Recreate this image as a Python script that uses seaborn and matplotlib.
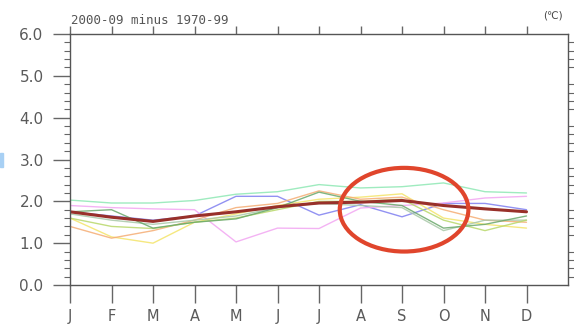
import numpy as np
import pandas as pd
import matplotlib
matplotlib.use("Agg")
import matplotlib.pyplot as plt
from matplotlib.patches import Ellipse, Rectangle
from matplotlib.ticker import MultipleLocator
import seaborn as sns

months = ["J", "F", "M", "A", "M", "J", "J", "A", "S", "O", "N", "D"]

# Temperature change (2000-09 minus 1970-99) by month, one list per run
run_mint   = [2.03, 1.96, 1.96, 2.02, 2.17, 2.23, 2.40, 2.32, 2.35, 2.44, 2.23, 2.20]
run_blue   = [1.75, 1.65, 1.55, 1.65, 2.12, 2.12, 1.67, 1.92, 1.63, 1.95, 1.95, 1.80]
run_pink   = [1.90, 1.85, 1.82, 1.80, 1.03, 1.36, 1.35, 1.84, 1.90, 1.96, 2.08, 2.12]
run_yellow = [1.60, 1.15, 1.00, 1.50, 1.70, 1.90, 2.05, 2.10, 2.18, 1.60, 1.45, 1.36]
run_orange = [1.40, 1.12, 1.30, 1.55, 1.85, 1.95, 2.25, 2.05, 2.10, 1.80, 1.55, 1.50]
run_green  = [1.75, 1.80, 1.36, 1.50, 1.58, 1.85, 2.22, 2.00, 1.90, 1.36, 1.45, 1.65]
run_olive  = [1.60, 1.40, 1.35, 1.50, 1.60, 1.80, 2.00, 2.00, 2.05, 1.55, 1.30, 1.55]
run_sage   = [1.70, 1.55, 1.45, 1.55, 1.65, 1.85, 1.95, 1.90, 1.85, 1.30, 1.55, 1.55]
ensemble_mean = [1.75, 1.62, 1.52, 1.65, 1.75, 1.87, 1.96, 1.98, 2.02, 1.90, 1.82, 1.75]

runs = {
    "mint": (run_mint, "#8ee8b4"),
    "blue": (run_blue, "#7f7ff0"),
    "pink": (run_pink, "#f2a6f2"),
    "yellow": (run_yellow, "#f4e46a"),
    "orange": (run_orange, "#f5ad74"),
    "sage": (run_sage, "#a8c8a8"),
    "olive": (run_olive, "#b8d86a"),
    "green": (run_green, "#6aa86a"),
}

rows = []
for name, (vals, _) in runs.items():
    for i, v in enumerate(vals):
        rows.append({"month": i, "value": v, "run": name})
df = pd.DataFrame(rows)
mean_df = pd.DataFrame({"month": np.arange(len(months)), "value": ensemble_mean})

sns.set_theme(style="white")
plt.rcParams["font.family"] = ["DejaVu Sans"]

fig = plt.figure(figsize=(5.74, 3.27), dpi=100)
ax = fig.add_axes([70 / 574, 1 - 285 / 327, (568 - 70) / 574, (285 - 34) / 327])

palette = {name: c for name, (_, c) in runs.items()}
sns.lineplot(data=df, x="month", y="value", hue="run", palette=palette,
             linewidth=1.0, legend=False, ax=ax, alpha=0.85)
sns.lineplot(data=mean_df, x="month", y="value", color="#98302a",
             linewidth=2.2, legend=False, ax=ax)

ax.set_xlim(0, 12)
ax.set_ylim(0, 6)
ax.set_xlabel("")
ax.set_ylabel("")

ax.set_xticks(np.arange(len(months)))
ax.set_xticklabels(months)
ax.set_yticks(np.arange(0, 6.01, 1.0))
ax.set_yticklabels([f"{v:.1f}" for v in np.arange(0, 6.01, 1.0)])
ax.yaxis.set_minor_locator(MultipleLocator(0.2))

for s in ax.spines.values():
    s.set_color("#555555")
    s.set_linewidth(1.0)

tick_col = "#666666"
lab_col = "#5a5a5a"
ax.tick_params(axis="x", which="major", direction="out", length=13, width=1,
               color=tick_col, labelcolor=lab_col, labelsize=10.5, pad=4,
               top=False, bottom=True)
ax.tick_params(axis="y", which="major", direction="out", length=12, width=1,
               color=tick_col, labelcolor=lab_col, labelsize=11, pad=7,
               left=True, right=False)
ax.tick_params(axis="y", which="minor", direction="out", length=4, width=0.8,
               color=tick_col, left=True, right=True)

# short ticks along the top edge
top = ax.secondary_xaxis("top")
top.set_xticks(np.arange(len(months)))
top.tick_params(axis="x", direction="out", length=6, width=1, color=tick_col,
                labeltop=False)
top.spines["top"].set_visible(False)

ax.add_patch(Ellipse((8.05, 1.80), 3.1, 2.0, fill=False,
                     edgecolor="#e0452c", linewidth=3.0, zorder=5))

fig.text(71 / 574, 1 - 20 / 327, "2000-09 minus 1970-99", fontsize=9,
         family="DejaVu Sans Mono", color="#555555", va="center", ha="left")
fig.text(563 / 574, 1 - 16 / 327, "(℃)", fontsize=7.5, color="#444444",
         va="center", ha="right")

fig.patches.append(Rectangle((0, 1 - 167 / 327), 3 / 574, 14 / 327,
                             transform=fig.transFigure, color="#a8d0f4"))

fig.savefig("out.png", dpi=100)
